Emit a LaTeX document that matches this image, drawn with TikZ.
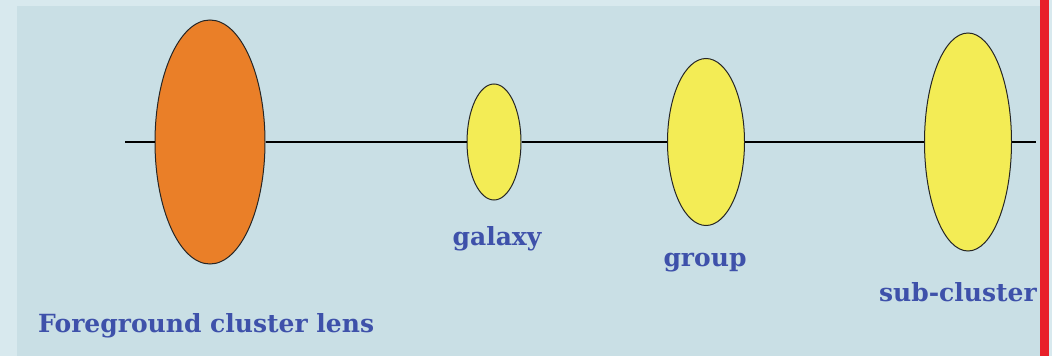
\documentclass[tikz,border=0pt]{standalone}
\usepackage{fontspec}
\setmainfont{DejaVu Serif}
\usepackage{tikz}
\usetikzlibrary{shapes.geometric,positioning}
\definecolor{cFrame}{HTML}{D8E9EE}
\definecolor{cPanel}{HTML}{C9DFE5}
\definecolor{cBar}{HTML}{E8202A}
\definecolor{cLens}{HTML}{EA7F28}
\definecolor{cHalo}{HTML}{F3EC55}
\definecolor{cText}{HTML}{3E51AA}
\tikzset{
  halo/.style={ellipse,draw=black!85,fill=#1,line width=1pt,inner sep=0pt},
  halo/.default=cHalo,
  tag/.style={font=\bfseries\fontsize{25}{30}\selectfont,text=cText,inner sep=0pt},
  axis/.style={line width=1.5pt,color=black},
}
\begin{document}
\begin{tikzpicture}[x=1pt,y=-1pt]
  % frame and panel
  \fill[cFrame] (0,0) rectangle (1052,356);
  \fill[cPanel] (17,6) rectangle (1040,356);
  \fill[cBar] (1040,0) rectangle (1049,356);
  \useasboundingbox (0,0) rectangle (1052,356);
  % halos along the line of sight
  \node[halo=cLens,minimum width=110,minimum height=244] (lens) at (210,142) {};
  \node[halo,minimum width=54,minimum height=116] (galaxy) at (494,142) {};
  \node[halo,minimum width=77,minimum height=167] (group) at (706,142) {};
  \node[halo,minimum width=87,minimum height=218] (sub) at (968,142) {};
  \coordinate (los0) at (125,142);
  \coordinate (los1) at (1036,142);
  \draw[axis] (los0) -- (lens) -- (galaxy) -- (group) -- (sub) -- (los1);
  % labels
  \node[tag,anchor=west] (lensname) at (38,326) {Foreground cluster lens};
  \node[tag] (galaxyname) at (497,239) {galaxy};
  \node[tag] (groupname) at (705,263) {group};
  \node[tag,anchor=east] (subname) at (1037,292) {sub-cluster};
\end{tikzpicture}
\end{document}
